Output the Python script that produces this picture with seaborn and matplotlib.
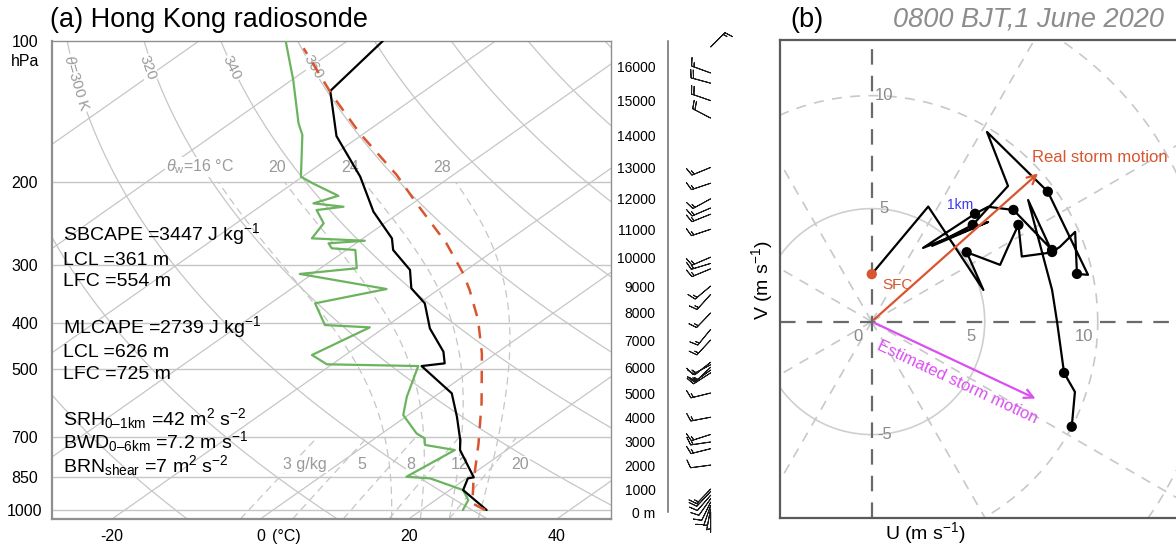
import numpy as np
import matplotlib
matplotlib.use("Agg")
import matplotlib.pyplot as plt
import seaborn as sns

W, H = 1176, 546

# ---- Hong Kong sounding (hPa / degC) ----
temp_p = [1000, 906.6, 856, 851.8, 744.8, 709, 632.6, 563.8, 493.2, 486.7, 459.7,
          410, 362.5, 336.7, 307.7, 279, 263.5, 231.2, 194.7, 159.5, 127.8, 100]
temp_c = [28.8, 21.8, 20.2, 20.8, 13.7, 11.8, 6.9, 1.7, -7.6, -5.0, -7.4,
          -13.7, -19.2, -23.9, -27.6, -33.7, -36.1, -43.7, -52.2, -63.2, -72.7, -75.2]

dewp_p = [1000, 951.9, 906.6, 856, 849.3, 744.8, 726.5, 703.5, 686.5, 627.3, 573.4,
          493.2, 489, 467.2, 407.9, 403.3, 362.5, 337.9, 313.8, 305.2, 279, 276.7,
          270, 266.6, 263.5, 244.7, 229.3, 225.6, 221.9, 213.8, 201.2, 194.7, 158.7,
          149.7, 121.1, 100]
dewp_c = [25.6, 24.4, 21.8, 15.1, 11.6, 13.0, 8.0, 6.7, 4.65, -0.67, -3.7,
          -8.05, -20.7, -24.5, -22.0, -28.5, -34.0, -27.1, -41.7, -35.1, -38.8, -42.3,
          -43.7, -39.3, -46.9, -48.2, -51.7, -48.7, -53.4, -51.5, -57.3, -60.2, -68.0,
          -70.8, -79.8, -88.3]

parcel_p = [1000, 967.7, 877.4, 720.5, 592.3, 463.4, 393.5, 339.6, 312.8, 270,
            221.9, 193.1, 157.3, 130.3, 103.6]
parcel_c = [28.6, 25.6, 21.9, 14.9, 7.65, -1.9, -8.8, -15.7, -19.8, -27.8,
            -39.5, -47.6, -60.6, -71.7, -84.5]

# height scale on the right (m) and the pressure it sits at
height_ticks = [0, 1000, 2000, 3000, 4000, 5000, 6000, 7000, 8000, 9000, 10000,
                11000, 12000, 13000, 14000, 15000, 16000]
height_tick_p = [1010, 902, 802, 716, 634, 563, 496, 434, 380, 333, 289,
                 252, 217, 186, 159, 134, 113.6]

# wind barbs (hPa, m/s)
barb_p = [1010, 994, 978, 962, 946, 930, 913, 902, 802, 740, 716, 690, 634, 563,
          510, 503, 496, 490, 484, 434, 412, 380, 347, 333, 306, 298, 289, 252,
          234, 227, 217, 201, 186, 146, 134, 123, 117, 103]
barb_u = [0.0, 0.6, 1.5, 2.5, 3.4, 4.0, 4.4, 4.6, 6.0, 6.4, 6.8, 6.2, 6.3, 6.5,
          5.6, 6.0, 5.0, 6.4, 5.8, 5.0, 4.6, 5.0, 4.5, 5.0, 6.0, 6.6, 7.0, 6.0,
          6.5, 7.0, 6.2, 6.0, 6.1, 8.8, 9.0, 8.5, 8.2, -4.5]
barb_v = [2.1, 3.2, 4.3, 5.1, 4.8, 4.6, 4.7, 4.8, 0.8, 1.6, 1.0, 2.0, 1.2, 1.6,
          3.6, 4.3, 4.8, 3.4, 4.6, 5.4, 5.6, 5.2, 5.0, 4.2, 2.5, 2.0, 3.0, 2.0,
          2.6, 3.0, 3.4, 2.0, 2.5, -4.6, -3.1, -2.3, -3.0, -4.5]

# hodograph (m/s), dots mark the km levels
hodo_u = [0.0, 2.50, 4.94, 4.20, 5.68, 6.04, 6.49, 6.64, 7.74, 7.98, 6.27, 5.15,
          4.57, 2.27, 5.15, 2.67, 4.47, 6.03, 5.10, 7.79, 9.57, 9.08, 9.00, 8.33,
          7.98, 6.92, 7.98, 8.20, 8.51, 8.99, 8.85]
hodo_v = [2.10, 5.09, 1.40, 3.07, 2.51, 3.32, 4.28, 2.88, 3.03, 3.17, 4.94, 5.08,
          4.77, 3.26, 4.41, 3.35, 4.28, 6.00, 8.39, 5.75, 2.07, 2.11, 3.97, 3.31,
          3.08, 5.38, 1.40, -0.01, -2.27, -3.11, -4.65]
hodo_dot = [0, 0, 0, 1, 0, 0, 1, 0, 0, 1, 1, 0, 1, 0, 0, 0, 1, 0, 0, 1, 0, 1, 0, 0,
            1, 0, 0, 0, 1, 0, 1]
real_storm = (7.45, 6.64)
est_storm = (7.36, -3.46)

P_BOT = 1045.0
SKEW = 90.0
GRID = "#c6c6c6"
LABEL = "#9a9a9a"
RED = "#d9552f"


def skew_x(t, p):
    return np.asarray(t, float) + SKEW * np.log10(P_BOT / np.asarray(p, float))


def box(l, t, r, b):
    return [l / W, 1 - b / H, (r - l) / W, (b - t) / H]


def moist_lapse(T, p):
    es = 6.112 * np.exp(17.67 * (T - 273.15) / (T - 29.65))
    rs = 0.622 * es / (p - es)
    return (287.04 * T + 2.501e6 * rs) / (1005.7 + 2.501e6 ** 2 * rs * 0.622 / (287.04 * T ** 2)) / p


def moist_adiabat(tw, levels):
    T = tw + 273.15
    out = [T]
    for p0, p1 in zip(levels[:-1], levels[1:]):
        dp = p1 - p0
        k1 = moist_lapse(T, p0)
        k2 = moist_lapse(T + k1 * dp, p1)
        T = T + 0.5 * (k1 + k2) * dp
        out.append(T)
    return np.array(out) - 273.15


def line_angle(ax, x, y, i):
    a = ax.transData.transform((x[i], y[i]))
    b = ax.transData.transform((x[i + 1], y[i + 1]))
    ang = np.degrees(np.arctan2(b[1] - a[1], b[0] - a[0]))
    if ang > 90:
        ang -= 180
    if ang < -90:
        ang += 180
    return ang


sns.set_theme(style="white")
plt.rcParams["font.family"] = ["Liberation Sans", "DejaVu Sans"]
plt.rcParams["mathtext.fontset"] = "custom"
plt.rcParams["mathtext.rm"] = "Liberation Sans"
plt.rcParams["mathtext.it"] = "Liberation Sans:italic"
for k in ["text.color", "axes.labelcolor", "xtick.color", "ytick.color"]:
    plt.rcParams[k] = "black"

fig = plt.figure(figsize=(W / 100, H / 100), dpi=100)

# ================= (a) skew-T =================
ax = fig.add_axes(box(52, 41, 611, 519))
ax.set_yscale("log")
ax.set_ylim(P_BOT, 100)
ax.set_xlim(-28.1, 47.3)
ax.yaxis.set_minor_locator(plt.NullLocator())
ax.set_yticks([1000, 850, 700, 500, 400, 300, 200, 100])
ax.set_yticklabels(["1000", "850", "700", "500", "400", "300", "200", "100"])
ax.tick_params(axis="y", length=0, pad=19.5, labelsize=11.5)
for lab in ax.get_yticklabels():
    lab.set_horizontalalignment("center")
ax.set_xticks([-20, 0, 20, 40])
ax.set_xticklabels(["-20", "0", "20", "40"])
ax.tick_params(axis="x", length=0, pad=7, labelsize=11.5)
for s in ax.spines.values():
    s.set_color("#8f8f8f")
    s.set_linewidth(1.0)
ax.spines["left"].set_linewidth(1.6)
ax.spines["bottom"].set_linewidth(1.6)

for p in [1000, 850, 700, 500, 400, 300, 200]:
    ax.axhline(p, color=GRID, lw=1.0, zorder=1)

pp = np.logspace(2, np.log10(P_BOT), 80)
for t in range(-160, 60, 20):
    ax.plot(skew_x(t, pp), pp, color=GRID, lw=0.9, zorder=1)

dry = {}
for th in range(260, 480, 20):
    tt = th * (pp / 1000.0) ** 0.2857 - 273.15
    dry[th] = (skew_x(tt, pp), pp)
    ax.plot(dry[th][0], pp, color=GRID, lw=0.9, zorder=1)

up = np.linspace(1000, 200, 161)
down = np.linspace(1000, P_BOT, 10)
for tw in [16, 20, 24, 28]:
    tu = moist_adiabat(tw, up)
    td = moist_adiabat(tw, down)
    p_all = np.concatenate([down[::-1], up[1:]])
    t_all = np.concatenate([td[::-1], tu[1:]])
    ax.plot(skew_x(t_all, p_all), p_all, color=GRID, lw=0.9, ls=(0, (6, 4)), zorder=1)

pm = np.linspace(P_BOT, 700, 20)
for w in [3, 5, 8, 12, 20]:
    e = (w / 1000.0) * pm / (0.622 + w / 1000.0)
    le = np.log(e / 6.112)
    tdw = 243.5 * le / (17.67 - le)
    ax.plot(skew_x(tdw, pm), pm, color=GRID, lw=0.9, ls=(0, (6, 4)), zorder=1)

wbox = dict(facecolor="white", edgecolor="none", pad=0.6)
# dry adiabat labels
for th, txt, px, py in [(300, r"$\theta$=300 K", 77, 83), (320, "320", 148, 68),
                        (340, "340", 232, 68), (360, "360", 313, 67)]:
    xs, ys = dry[th]
    pl = 100 * 10 ** ((py - 41) / 469.0)
    i = int(np.argmin(np.abs(ys - pl)))
    ang = line_angle(ax, xs, ys, min(i, len(xs) - 2))
    ax.text((px - 260.3) / 7.417, pl, txt, rotation=ang, ha="center", va="center",
            rotation_mode="anchor", color=LABEL, fontsize=11, bbox=wbox, zorder=2)
# moist adiabat labels
for txt, px in [(r"$\theta_{\mathregular{w}}$=16 °C", 200), ("20", 277), ("24", 350), ("28", 442)]:
    ax.text((px - 260.3) / 7.417, 185.7, txt, ha="center", va="center", color=LABEL,
            fontsize=11.5, bbox=wbox, zorder=2)
# mixing ratio labels
for txt, px in [("3 g/kg", 305), ("5", 362), ("8", 411), ("12", 460), ("20", 520)]:
    ax.text((px - 260.3) / 7.417, 800, txt, ha="center", va="center", color=LABEL,
            fontsize=11.5, bbox=wbox, zorder=2)

sns.lineplot(x=skew_x(dewp_c, dewp_p), y=dewp_p, sort=False, estimator=None,
             color="#6cb35f", lw=1.6, ax=ax, zorder=3)
sns.lineplot(x=skew_x(temp_c, temp_p), y=temp_p, sort=False, estimator=None,
             color="black", lw=1.6, ax=ax, zorder=4)
sns.lineplot(x=skew_x(parcel_c, parcel_p), y=parcel_p, sort=False, estimator=None,
             color=RED, lw=1.8, linestyle=(0, (5, 4)), ax=ax, zorder=4)
ax.set_xlabel("")
ax.set_ylabel("")

def ftext(x, y, s, **kw):
    fig.text(x / W, 1 - y / H, s, **kw)

ftext(25, 62, "hPa", ha="center", va="center", fontsize=11.5)
ftext(286, 537, "(°C)", ha="center", va="center", fontsize=11.5)
ftext(50, 27, "(a) Hong Kong radiosonde", ha="left", va="baseline", fontsize=19.5)

notes = [("SBCAPE =3447 J kg$^{-1}$", 240), ("LCL =361 m", 265), ("LFC =554 m", 286),
         ("MLCAPE =2739 J kg$^{-1}$", 333), ("LCL =626 m", 357), ("LFC =725 m", 379),
         ("SRH$_{\\mathregular{0\u20131km}}$ =42 m$^{2}$ s$^{-2}$", 425),
         ("BWD$_{\\mathregular{0\u20136km}}$ =7.2 m s$^{-1}$", 448),
         ("BRN$_{\\mathregular{shear}}$ =7 m$^{2}$ s$^{-2}$", 472)]
for s, yb in notes:
    ftext(63, yb, s, ha="left", va="baseline", fontsize=14)

# ================= height scale and barbs =================
axh = fig.add_axes(box(668, 41, 750, 519))
axh.set_yscale("log")
axh.set_ylim(P_BOT, 100)
axh.set_xlim(0, 1)
axh.patch.set_alpha(0)
axh.yaxis.set_minor_locator(plt.NullLocator())
for k in ["top", "right", "bottom"]:
    axh.spines[k].set_visible(False)
axh.spines["left"].set_color("#6a6a6a")
axh.spines["left"].set_linewidth(1.1)
axh.spines["left"].set_bounds(height_tick_p[0], 100)
axh.set_xticks([])
axh.set_yticks(height_tick_p)
axh.set_yticklabels(["0 m"] + [str(h) for h in height_ticks[1:]])
axh.tick_params(axis="y", direction="in", length=7, width=1.0, color="#6a6a6a",
                pad=9, labelsize=10)
axh.barbs(np.full(len(barb_p), 0.52), barb_p, barb_u, barb_v, length=5.4, pivot="tip",
          barb_increments=dict(half=2.5, full=5, flag=25), lw=0.7, color="#1a1a1a",
          clip_on=False)

# ================= (b) hodograph =================
axb = fig.add_axes(box(780, 40, 1260, 518))
axb.set_xlim(-4.06, 17.18)
axb.set_ylim(-8.69, 12.46)
axb.set_xticks([])
axb.set_yticks([])
for k, s in axb.spines.items():
    s.set_color("#5a5a5a")
    s.set_linewidth(1.6)

ang = np.linspace(0, 2 * np.pi, 361)
axb.plot(5 * np.cos(ang), 5 * np.sin(ang), color="#cfcfcf", lw=1.2, zorder=1)
for r in [10, 15]:
    axb.plot(r * np.cos(ang), r * np.sin(ang), color="#c8c8c8", lw=1.2,
             ls=(0, (6, 5)), zorder=1)
for a in [30, 60, 120, 150, 210, 240, 300, 330]:
    axb.plot([0, 25 * np.cos(np.radians(a))], [0, 25 * np.sin(np.radians(a))],
             color="#c8c8c8", lw=1.2, ls=(0, (6, 5)), zorder=1)
axb.axhline(0, color="#6a6a6a", lw=1.6, ls=(0, (7, 5)), zorder=1)
axb.axvline(0, color="#6a6a6a", lw=1.6, ls=(0, (7, 5)), zorder=1)

for r in [5, 10]:
    axb.text(r - 0.6, -0.65, str(r), color="#8a8a8a", fontsize=12, ha="center", va="center")
axb.text(-0.6, -0.65, "0", color="#8a8a8a", fontsize=12, ha="center", va="center")
for r in [10, 5, -5]:
    axb.text(0.55, r, str(r), color="#8a8a8a", fontsize=12, ha="center", va="center")

sns.lineplot(x=hodo_u, y=hodo_v, sort=False, estimator=None, color="black", lw=1.6,
             ax=axb, zorder=3)
du = [u for u, d in zip(hodo_u, hodo_dot) if d]
dv = [v for v, d in zip(hodo_v, hodo_dot) if d]
sns.scatterplot(x=du, y=dv, color="black", s=55, edgecolor="none", ax=axb, zorder=4)
sns.scatterplot(x=hodo_u[:1], y=hodo_v[:1], color=RED, s=55, edgecolor="none", ax=axb, zorder=5)

axb.annotate("", xy=real_storm, xytext=(0, 0),
             arrowprops=dict(arrowstyle="->", color=RED, lw=1.6, mutation_scale=16), zorder=5)
axb.annotate("", xy=est_storm, xytext=(0, 0),
             arrowprops=dict(arrowstyle="->", color="#d94ff2", lw=1.6, mutation_scale=16), zorder=5)
axb.text(7.09, 7.24, "Real storm motion", color=RED, fontsize=12, ha="left", va="center")
rot = np.degrees(np.arctan2(est_storm[1], est_storm[0]))
axb.text(3.77, -2.67, "Estimated storm motion", color="#d94ff2", fontsize=12,
         rotation=rot, rotation_mode="anchor", ha="center", va="center")
axb.text(1.12, 1.61, "SFC", color=RED, fontsize=11, ha="center", va="center")
axb.text(3.9, 5.16, "1km", color="#3a3af0", fontsize=10, ha="center", va="center")
axb.set_xlabel("")
axb.set_ylabel("")

ftext(790, 27, "(b)", ha="left", va="baseline", fontsize=19.5)
ftext(893, 27, "0800 BJT,1 June 2020", ha="left", va="baseline", fontsize=19.5,
      style="italic", color="#8c8c8c")
ftext(925, 533, "U (m s$^{-1}$)", ha="center", va="center", fontsize=14)
fig.text(762 / W, 1 - 280 / H, "V (m s$^{-1}$)", ha="center", va="center",
         fontsize=14, rotation=90)

fig.savefig("out.png", dpi=100)
